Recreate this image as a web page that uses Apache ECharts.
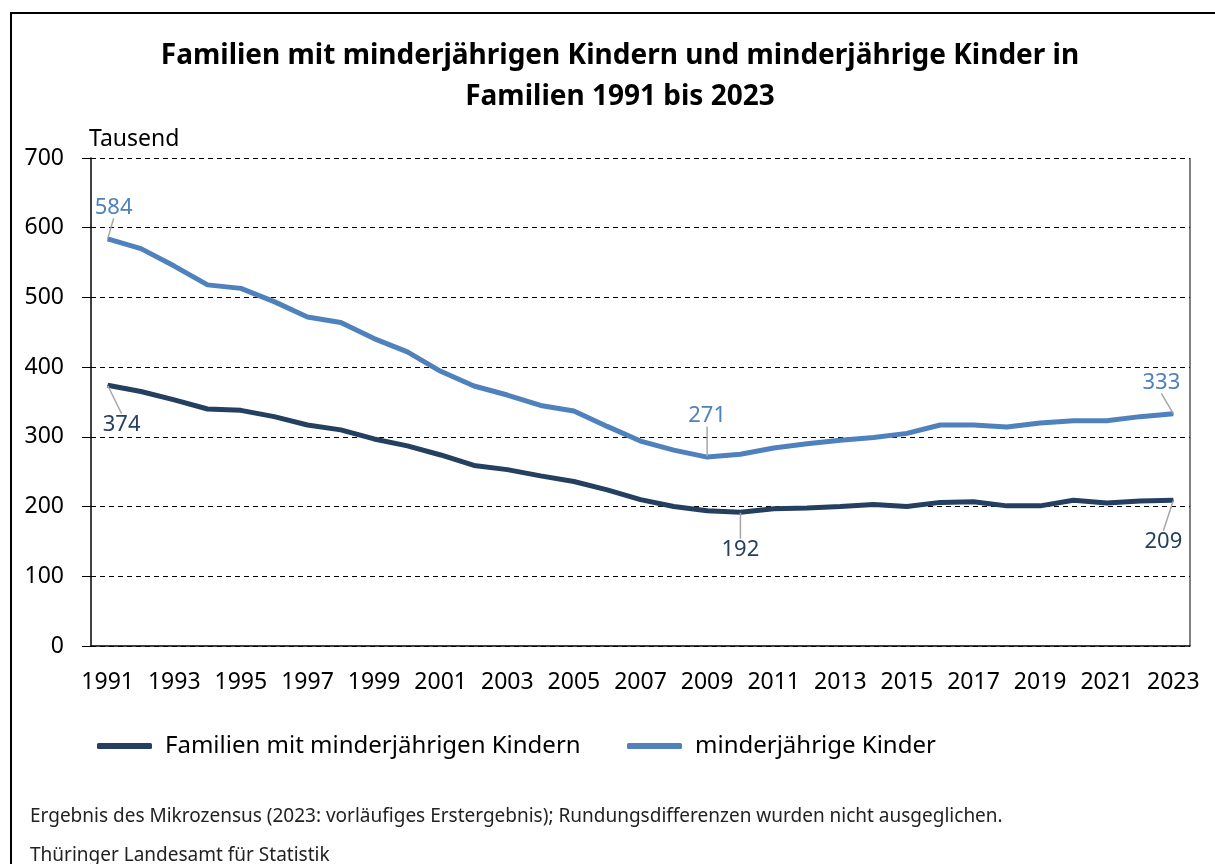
<!DOCTYPE html>
<html>
<head>
<meta charset="utf-8">
<script src="https://cdn.jsdelivr.net/npm/echarts@6/dist/echarts.min.js"></script>
<style>
  html, body { margin: 0; padding: 0; background: #fff; }
  #frame { position: absolute; left: 10px; top: 12px; width: 1215px; height: 860px; border-left: 2px solid #000; border-top: 2px solid #000; }
  #echarts_line { position: absolute; left: 0; top: 0; width: 1215px; height: 864px; }
</style>
</head>
<body>
<div id="frame"></div>
<div id="echarts_line"></div>
<script>
// Jahre (Kategorien)
var years = [];
for (var y = 1991; y <= 2023; y++) years.push(String(y));

// Familien mit minderjährigen Kindern (Tausend)
var familien = [374, 365, 353, 340, 338, 329, 317, 310, 297, 287, 274, 259, 253, 244, 236, 224, 210, 200, 194, 192,
  197, 198, 200, 203, 200, 206, 207, 201, 201, 209, 205, 208, 209];
// minderjährige Kinder (Tausend)
var kinder = [584, 570, 545, 518, 513, 494, 472, 464, 441, 422, 394, 373, 360, 345, 337, 315, 294, 281, 271, 275,
  284, 290, 295, 299, 305, 317, 317, 314, 320, 323, 323, 329, 333];

var yTicks = [0, 100, 200, 300, 400, 500, 600, 700];

var cDark = '#243f60';
var cBlue = '#4f81bd';
var font = 'Noto Sans';

// markierte Werte: Index -> Lage des Labels
var markFam = { 0: ['bottom', 14, 23], 19: ['bottom', 0, 21], 32: ['bottom', -10, 25] };
var markKin = { 0: ['top', 6, -15], 18: ['top', 0, -25], 32: ['top', -12, -15] };

function withLabels(values, marks, color) {
  return values.map(function (v, i) {
    var m = marks[i];
    if (!m) return v;
    return { value: v, label: { show: true, position: m[0], color: color, fontSize: 22, fontFamily: font } };
  });
}
function layoutFn(marks) {
  return function (p) {
    var m = marks[p.dataIndex];
    return m ? { dx: m[1], dy: m[2] } : {};
  };
}

var chart = echarts.init(document.getElementById('echarts_line'), null, { renderer: 'canvas' });
chart.setOption({
  animation: false,
  textStyle: { fontFamily: font },
  title: {
    text: 'Familien mit minderjährigen Kindern und minderjährige Kinder in\nFamilien 1991 bis 2023',
    left: 615, top: 31, textAlign: 'center',
    textStyle: { fontSize: 28, fontWeight: 'bold', color: '#000', lineHeight: 41, fontFamily: font }
  },
  grid: { left: 91, right: 25, top: 158, bottom: 218 },
  legend: [
    { data: ['Familien mit minderjährigen Kindern'], left: 97, top: 734, padding: 0, itemWidth: 55, itemHeight: 6,
      icon: 'roundRect', textStyle: { fontSize: 24, color: '#000', padding: [0, 0, 0, 8] } },
    { data: ['minderjährige Kinder'], left: 627, top: 734, padding: 0, itemWidth: 55, itemHeight: 6,
      icon: 'roundRect', textStyle: { fontSize: 24, color: '#000', padding: [0, 0, 0, 8] } }
  ],
  xAxis: {
    type: 'category', data: years, boundaryGap: true,
    axisLine: { lineStyle: { color: '#000', width: 1.5 } },
    axisTick: { show: false },
    axisLabel: { interval: 1, fontSize: 23, color: '#000', margin: 25 }
  },
  yAxis: {
    type: 'value', min: yTicks[0], max: yTicks[yTicks.length - 1], interval: 100,
    name: 'Tausend', nameLocation: 'end', nameGap: 7,
    nameTextStyle: { fontSize: 23, color: '#000', align: 'left', padding: [0, 0, 0, -2] },
    axisLine: { show: true, lineStyle: { color: '#000', width: 1.5 } },
    axisTick: { show: true, inside: false, length: 9, lineStyle: { color: '#000' } },
    axisLabel: { fontSize: 23, color: '#000', margin: 27 },
    splitLine: { lineStyle: { color: '#000', type: [5, 4], width: 1 } }
  },
  graphic: [
    { type: 'line', shape: { x1: 1190, y1: 158, x2: 1190, y2: 646 }, style: { stroke: '#808080', lineWidth: 2 } },
    { type: 'text', left: 30, top: 807, style: { text: 'Ergebnis des Mikrozensus (2023: vorläufiges Erstergebnis); Rundungsdifferenzen wurden nicht ausgeglichen.', fontSize: 19, fill: '#222', fontFamily: font } },
    { type: 'text', left: 30, top: 846, style: { text: 'Thüringer Landesamt für Statistik', fontSize: 19, fill: '#222', fontFamily: font } }
  ],
  series: [
    {
      name: 'Familien mit minderjährigen Kindern', type: 'line',
      data: withLabels(familien, markFam, cDark),
      symbol: 'circle', symbolSize: 1, showSymbol: true,
      itemStyle: { color: cDark },
      lineStyle: { color: cDark, width: 5 },
      labelLayout: layoutFn(markFam),
      labelLine: { show: true, lineStyle: { color: '#a6a6a6', width: 1.5 } }
    },
    {
      name: 'minderjährige Kinder', type: 'line',
      data: withLabels(kinder, markKin, cBlue),
      symbol: 'circle', symbolSize: 1, showSymbol: true,
      itemStyle: { color: cBlue },
      lineStyle: { color: cBlue, width: 5 },
      labelLayout: layoutFn(markKin),
      labelLine: { show: true, lineStyle: { color: '#a6a6a6', width: 1.5 } }
    }
  ]
});
</script>
</body>
</html>
